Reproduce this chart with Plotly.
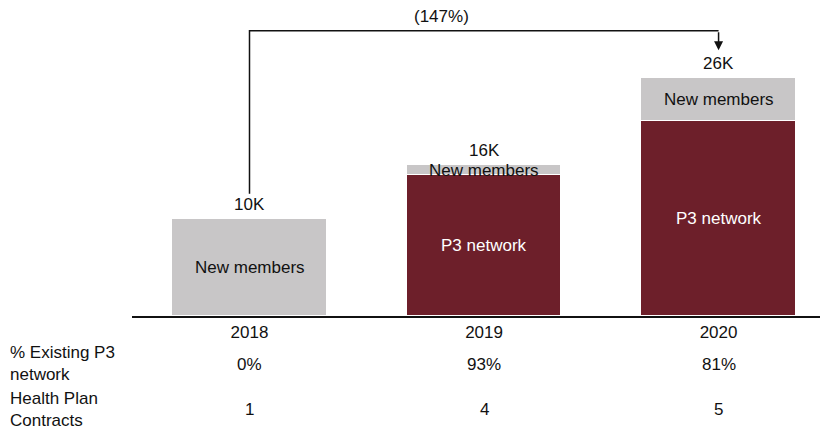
import plotly.graph_objects as go

# data
years = ["2018", "2019", "2020"]
p3_network = [0, 14.5, 20.1]      # K members from existing P3 network
new_members = [10.0, 1.1, 4.4]    # K new members
total_labels = ["10K", "16K", "26K"]
pct_existing = ["0%", "93%", "81%"]
plan_contracts = ["1", "4", "5"]
growth_label = "(147%)"

GREY = "#C8C6C7"
MAROON = "#6D1F2A"
INK = "#111111"
FONT = "Liberation Sans, Arial, sans-serif"
FS = 17

x = list(range(len(years)))
totals = [a + b for a, b in zip(p3_network, new_members)]

fig = go.Figure()

fig.add_trace(go.Bar(
    x=x, y=p3_network, width=0.66,
    marker=dict(color=MAROON, line=dict(color="white", width=1)),
    hoverinfo="skip", showlegend=False
))
fig.add_trace(go.Bar(
    x=x, y=new_members, width=0.66,
    marker=dict(color=GREY, line=dict(color="white", width=1)),
    hoverinfo="skip", showlegend=False
))

ann = []
for i in x:
    # total on top of the stack
    ann.append(dict(x=i, y=totals[i], text=total_labels[i], showarrow=False,
                    yanchor="bottom", yshift=3, font=dict(size=FS, color=INK)))
    # segment labels
    if new_members[i] > 0:
        ann.append(dict(x=i, y=p3_network[i] + new_members[i] / 2, text="New members",
                        showarrow=False, font=dict(size=FS, color=INK)))
    if p3_network[i] > 0:
        ann.append(dict(x=i, y=p3_network[i] / 2, text="P3 network",
                        showarrow=False, font=dict(size=FS, color="white")))
    # table rows under the axis
    ann.append(dict(x=i, yref="paper", y=-0.159, yanchor="middle",
                    text=pct_existing[i], showarrow=False,
                    font=dict(size=FS, color=INK)))
    ann.append(dict(x=i, yref="paper", y=-0.305, yanchor="middle",
                    text=plan_contracts[i], showarrow=False,
                    font=dict(size=FS, color=INK)))

ann.append(dict(xref="paper", x=-0.1797, yref="paper", y=-0.155, yanchor="middle",
                text="% Existing P3<br>network",
                xanchor="left", align="left", showarrow=False,
                font=dict(size=FS, color=INK)))
ann.append(dict(xref="paper", x=-0.1797, yref="paper", y=-0.302, yanchor="middle",
                text="Health Plan<br>Contracts",
                xanchor="left", align="left", showarrow=False,
                font=dict(size=FS, color=INK)))

# growth bracket from 2018 to 2020
bracket_top = 29.4
ann.append(dict(x=0.82, y=30.85, text=growth_label, showarrow=False,
                font=dict(size=FS, color=INK)))
ann.append(dict(x=2, y=27.4, ax=2, ay=bracket_top, axref="x", ayref="y",
                text="", showarrow=True, arrowhead=2, arrowsize=1.2,
                arrowwidth=1.5, arrowcolor=INK))

fig.add_shape(type="path",
              path=f"M 0,{totals[0] + 2.6} L 0,{bracket_top} L 2,{bracket_top}",
              xref="x", yref="y", line=dict(color=INK, width=1.5))

fig.update_layout(
    width=828, height=432,
    barmode="stack", bargap=0,
    plot_bgcolor="white", paper_bgcolor="white",
    margin=dict(l=124, r=14, t=0, b=124),
    font=dict(family=FONT, size=FS, color=INK),
    annotations=ann,
    xaxis=dict(range=[-0.501, 2.441], tickvals=x, ticktext=years,
               showline=True, linecolor=INK, linewidth=2,
               showgrid=False, zeroline=False, ticks="",
               tickfont=dict(size=FS, color=INK)),
    yaxis=dict(range=[0, 31.75], visible=False, showgrid=False),
)

fig.write_html("out.html")
